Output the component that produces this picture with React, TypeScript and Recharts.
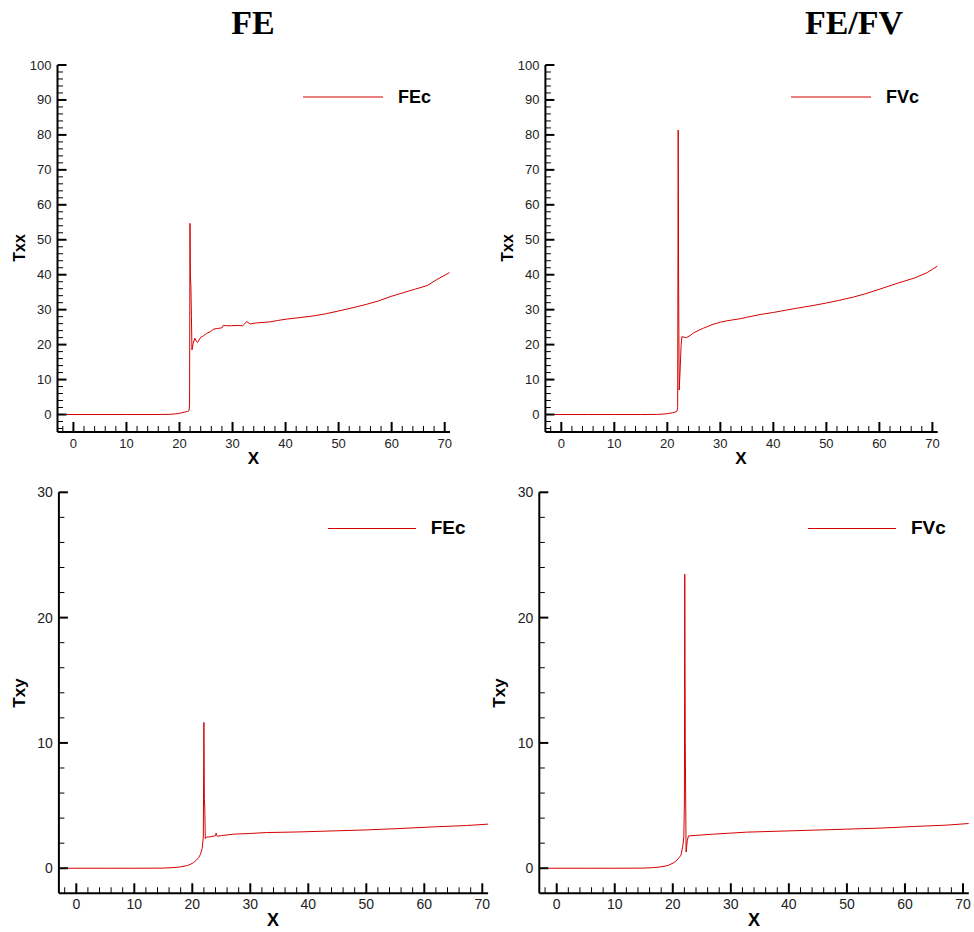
import React from "react";
import { LineChart, Line, XAxis, YAxis, Legend } from "recharts";

const RED = "#d40000";
const SANS = "'Liberation Sans', Arial, sans-serif";
const Y_AXIS_W = 40;
const X_AXIS_H = 30;

// ─── Data ───────────────────────────────────────────────────────

// FE, Txx
const feTxxX = [-2, 5, 10, 15, 18, 19, 20, 21, 21.5, 21.8, 21.9, 21.98, 22.05, 22.15, 22.25, 22.35, 22.55, 22.9, 23.15, 23.4, 24.0, 24.5, 25.1, 25.8, 26.4, 27.0, 27.6, 28.0, 28.25, 28.8, 29.8, 31.0, 31.9, 32.7, 33.3, 34.5, 37.0, 38.5, 40.2, 42.5, 45.2, 47.5, 49.9, 52.5, 55.2, 57.5, 59.9, 62.5, 64.5, 66.7, 68.5, 70.9];
const feTxxY = [0, 0, 0, 0, 0.05, 0.15, 0.35, 0.7, 0.9, 1.1, 3, 54.7, 40, 36.5, 28, 18.5, 20.2, 21.8, 21.0, 20.6, 22.1, 22.5, 23.2, 23.7, 24.4, 24.6, 24.7, 24.8, 25.5, 25.4, 25.4, 25.5, 25.4, 26.6, 25.9, 26.2, 26.5, 26.9, 27.3, 27.7, 28.2, 28.8, 29.6, 30.5, 31.5, 32.5, 33.8, 35.0, 35.9, 36.9, 38.6, 40.6];

// FE/FV, Txx
const fvTxxX = [-2, 5, 10, 15, 18, 19, 20, 21, 21.5, 21.8, 21.95, 22.05, 22.12, 22.24, 22.45, 22.6, 22.75, 23.2, 23.6, 24.3, 24.9, 25.8, 26.8, 27.8, 28.6, 30, 31.2, 33.7, 34.9, 37.5, 40, 42.5, 44.4, 47.5, 50, 52.5, 55.1, 57.5, 60.1, 63.5, 66.7, 69, 71];
const fvTxxY = [0, 0, 0, 0, 0.03, 0.1, 0.25, 0.5, 0.7, 0.9, 2, 81.4, 40, 7.0, 14, 20, 22.3, 22.1, 22.0, 22.6, 23.3, 24.0, 24.7, 25.3, 25.8, 26.4, 26.8, 27.4, 27.8, 28.6, 29.2, 29.9, 30.4, 31.2, 31.9, 32.7, 33.6, 34.6, 35.9, 37.6, 39.1, 40.6, 42.5];

// FE, Txy
const feTxyX = [-2, 5, 10, 15, 16.5, 17.9, 19, 19.6, 20.2, 20.7, 21.1, 21.4, 21.7, 21.9, 22.0, 22.08, 22.15, 22.24, 22.5, 23.0, 23.6, 24.0, 24.1, 24.3, 25, 27.1, 29.9, 32.8, 35.5, 38.6, 44.3, 50.1, 55.8, 61.6, 67.3, 71];
const feTxyY = [0, 0, 0, 0.01, 0.05, 0.1, 0.2, 0.29, 0.45, 0.64, 0.85, 1.1, 1.57, 2.5, 11.64, 5.5, 4.8, 2.37, 2.5, 2.5, 2.55, 2.6, 2.8, 2.55, 2.6, 2.72, 2.77, 2.85, 2.87, 2.9, 2.98, 3.06, 3.17, 3.3, 3.41, 3.52];

// FE/FV, Txy
const fvTxyX = [-2, 5, 10, 15, 16.5, 17.8, 19, 19.5, 20.2, 20.7, 21.1, 21.4, 21.7, 21.9, 22.0, 22.06, 22.15, 22.29, 22.5, 22.7, 24, 27, 32.7, 38.5, 44.2, 50, 55.7, 61.5, 67.2, 71];
const fvTxyY = [0, 0, 0, 0.01, 0.05, 0.1, 0.2, 0.29, 0.45, 0.64, 0.85, 1.04, 1.7, 2.5, 5.2, 23.46, 10, 1.3, 2.2, 2.58, 2.62, 2.72, 2.88, 2.96, 3.04, 3.12, 3.2, 3.33, 3.44, 3.57];

// ticks (majors every 10, minors every 2)
const xTicks = [-2, 0, 2, 4, 6, 8, 10, 12, 14, 16, 18, 20, 22, 24, 26, 28, 30, 32, 34, 36, 38, 40, 42, 44, 46, 48, 50, 52, 54, 56, 58, 60, 62, 64, 66, 68, 70];
const txxTicks = [-4, -2, 0, 2, 4, 6, 8, 10, 12, 14, 16, 18, 20, 22, 24, 26, 28, 30, 32, 34, 36, 38, 40, 42, 44, 46, 48, 50, 52, 54, 56, 58, 60, 62, 64, 66, 68, 70, 72, 74, 76, 78, 80, 82, 84, 86, 88, 90, 92, 94, 96, 98, 100];
const txyTicks = [0, 2, 4, 6, 8, 10, 12, 14, 16, 18, 20, 22, 24, 26, 28, 30];

const toRows = (xs: number[], ys: number[]) => xs.map((x, i) => ({ x, y: ys[i] }));

// ─── Tick renderers ─────────────────────────────────────────────

function YTick(props: any) {
  const { x, y, payload, fontSize } = props;
  const major = payload.value % 10 === 0;
  return (
    <g>
      <line x1={x} y1={y} x2={x + (major ? 9 : 5.5)} y2={y} stroke="#000" strokeWidth={major ? 2 : 1} />
      {major && (
        <text x={x - 6} y={y} textAnchor="end" dominantBaseline="central" fontSize={fontSize} fontFamily={SANS} fill="#222">
          {payload.value}
        </text>
      )}
    </g>
  );
}

function XTick(props: any) {
  const { x, y, payload, fontSize } = props;
  const major = payload.value % 10 === 0;
  return (
    <g>
      <line x1={x} y1={y} x2={x} y2={y - (major ? 10 : 6)} stroke="#000" strokeWidth={major ? 2 : 1} />
      {major && (
        <text x={x} y={y + 11} textAnchor="middle" dominantBaseline="central" fontSize={fontSize} fontFamily={SANS} fill="#222">
          {payload.value}
        </text>
      )}
    </g>
  );
}

function LegendLine(props: any) {
  const { payload, lineWidth, fontSize } = props;
  const item = payload?.[0];
  if (!item) return null;
  return (
    <div style={{ display: "flex", alignItems: "center", whiteSpace: "nowrap" }}>
      <div style={{ width: lineWidth, height: 0, borderTop: `1px solid ${item.color}` }} />
      <span style={{ marginLeft: 15, fontFamily: SANS, fontWeight: "bold", fontSize, color: "#000" }}>{item.value}</span>
    </div>
  );
}

// ─── Panel ──────────────────────────────────────────────────────

function Panel(p: {
  rows: { x: number; y: number }[];
  name: string;
  left: number;
  top: number;
  width: number;
  height: number;
  margin: { top: number; right: number; bottom: number; left: number };
  yDomain: [number, number];
  yTicks: number[];
  fontSize: number;
  legend: { left: number; top: number; line: number; fontSize: number };
}) {
  return (
    <div style={{ position: "absolute", left: p.left, top: p.top }}>
      <LineChart width={p.width} height={p.height} data={p.rows} margin={p.margin}>
        <XAxis
          type="number"
          dataKey="x"
          domain={[-3, 71]}
          allowDataOverflow
          ticks={xTicks}
          interval={0}
          height={X_AXIS_H}
          tickSize={0}
          tickMargin={0}
          tickLine={false}
          axisLine={{ stroke: "#000", strokeWidth: 2 }}
          tick={(t: any) => <XTick {...t} fontSize={p.fontSize} />}
        />
        <YAxis
          type="number"
          domain={p.yDomain}
          allowDataOverflow
          ticks={p.yTicks}
          interval={0}
          width={Y_AXIS_W}
          tickSize={0}
          tickMargin={0}
          tickLine={false}
          axisLine={{ stroke: "#000", strokeWidth: 2 }}
          tick={(t: any) => <YTick {...t} fontSize={p.fontSize} />}
        />
        <Legend
          layout="vertical"
          align="center"
          verticalAlign="middle"
          wrapperStyle={{ left: p.legend.left, top: p.legend.top, width: "auto", height: "auto", transform: "translateY(-50%)" }}
          content={(lp: any) => <LegendLine {...lp} lineWidth={p.legend.line} fontSize={p.legend.fontSize} />}
        />
        <Line type="linear" dataKey="y" name={p.name} stroke={RED} strokeWidth={1} dot={false} isAnimationActive={false} />
      </LineChart>
    </div>
  );
}

function Centered({ x, y, rotate, style, children }: any) {
  return (
    <div
      style={{
        position: "absolute",
        left: x,
        top: y,
        transform: `translate(-50%, -50%)${rotate ? ` rotate(${rotate}deg)` : ""}`,
        whiteSpace: "nowrap",
        lineHeight: 1,
        ...style,
      }}
    >
      {children}
    </div>
  );
}

const titleStyle = { fontFamily: "'Liberation Serif', 'Times New Roman', serif", fontWeight: "bold", fontSize: 34, color: "#000" };
const axisStyle = (fs: number) => ({ fontFamily: SANS, fontWeight: "bold", fontSize: fs, color: "#000" });

export default function App() {
  return (
    <div style={{ position: "absolute", left: 0, top: 0, width: 974, height: 932, background: "#fff", overflow: "hidden" }}>
      <Centered x={253} y={23} style={titleStyle}>FE</Centered>
      <Centered x={854} y={23} style={titleStyle}>FE/FV</Centered>

      <Panel
        rows={toRows(feTxxX, feTxxY)}
        name="FEc"
        left={0}
        top={40}
        width={487}
        height={430}
        margin={{ top: 25, right: 37, bottom: 38 - X_AXIS_H, left: 57.5 - Y_AXIS_W }}
        yDomain={[-5, 100]}
        yTicks={txxTicks}
        fontSize={13}
        legend={{ left: 303, top: 57.3, line: 80, fontSize: 18 }}
      />
      <Panel
        rows={toRows(fvTxxX, fvTxxY)}
        name="FVc"
        left={487}
        top={40}
        width={487}
        height={430}
        margin={{ top: 25, right: 36.3, bottom: 38 - X_AXIS_H, left: 58.4 - Y_AXIS_W }}
        yDomain={[-5, 100]}
        yTicks={txxTicks}
        fontSize={13}
        legend={{ left: 304, top: 57.3, line: 80, fontSize: 18 }}
      />
      <Panel
        rows={toRows(feTxyX, feTxyY)}
        name="FEc"
        left={0}
        top={470}
        width={500}
        height={462}
        margin={{ top: 22.3, right: 11.9, bottom: 38.7 - X_AXIS_H, left: 58.9 - Y_AXIS_W }}
        yDomain={[-2, 30]}
        yTicks={txyTicks}
        fontSize={14}
        legend={{ left: 327.7, top: 58, line: 88, fontSize: 19 }}
      />
      <Panel
        rows={toRows(fvTxyX, fvTxyY)}
        name="FVc"
        left={487}
        top={470}
        width={487}
        height={462}
        margin={{ top: 22.3, right: 5.2, bottom: 38.7 - X_AXIS_H, left: 52.3 - Y_AXIS_W }}
        yDomain={[-2, 30]}
        yTicks={txyTicks}
        fontSize={14}
        legend={{ left: 321, top: 58, line: 88, fontSize: 19 }}
      />

      <Centered x={20} y={248} rotate={-90} style={axisStyle(16)}>Txx</Centered>
      <Centered x={508} y={248} rotate={-90} style={axisStyle(16)}>Txx</Centered>
      <Centered x={18.5} y={693} rotate={-90} style={axisStyle(17)}>Txy</Centered>
      <Centered x={499} y={693} rotate={-90} style={axisStyle(17)}>Txy</Centered>

      <Centered x={253.5} y={458} style={axisStyle(17)}>X</Centered>
      <Centered x={741} y={458} style={axisStyle(17)}>X</Centered>
      <Centered x={273} y={920} style={axisStyle(18)}>X</Centered>
      <Centered x={754} y={920} style={axisStyle(18)}>X</Centered>
    </div>
  );
}
